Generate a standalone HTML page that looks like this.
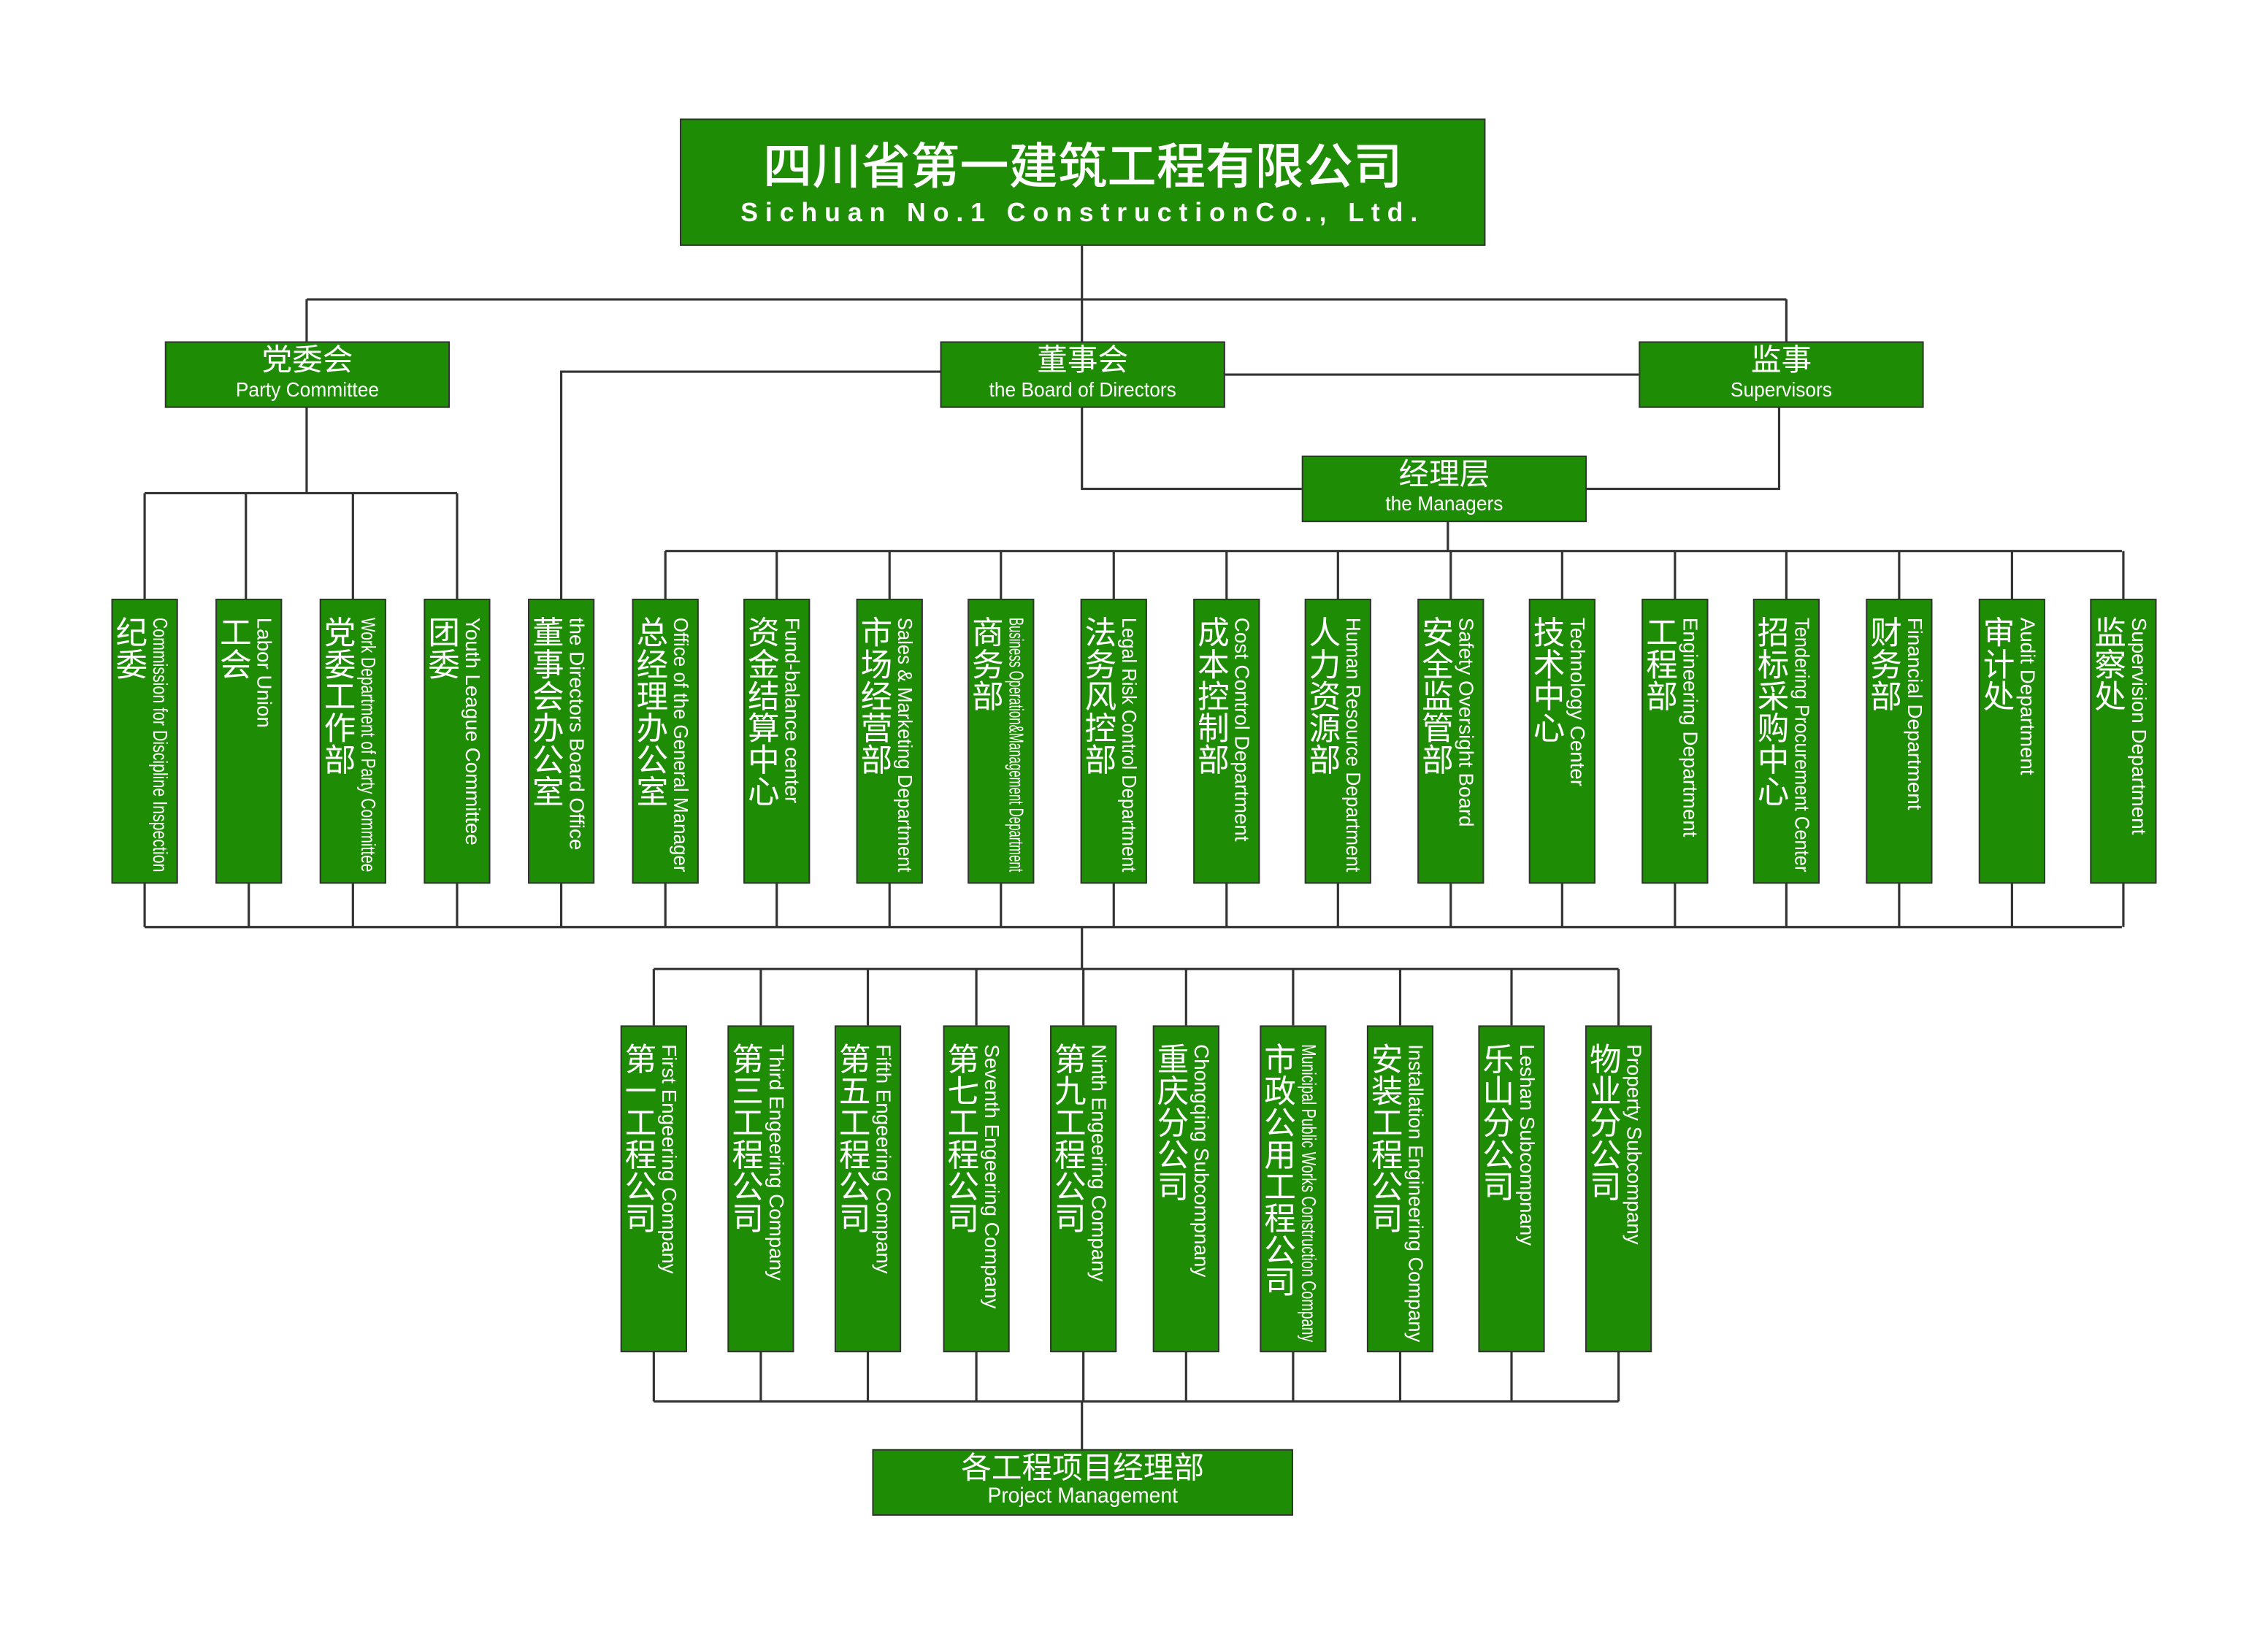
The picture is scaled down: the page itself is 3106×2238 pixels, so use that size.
<!DOCTYPE html>
<html><head><meta charset="utf-8">
<style>
html,body{margin:0;padding:0;background:#fff;}
body{width:3106px;height:2238px;overflow:hidden;}
#w{position:absolute;left:0;top:0;width:1568px;height:1130px;transform:scale(1.98087);transform-origin:0 0;}
.b{position:absolute;background:#1f8c05;border:1.5px solid #333;box-sizing:border-box;color:#fff;font-family:"Liberation Sans","Noto Sans CJK SC",sans-serif;}
.h{text-align:center;}
.h .cn{font-size:21px;line-height:23px;margin-top:1px;}
.h .en{font-size:14px;line-height:16px;transform:scaleX(0.95);}
.col{width:46px;}
.col .cn{position:absolute;left:2px;top:11px;writing-mode:vertical-rl;font-size:22px;line-height:22px;font-family:"Noto Sans CJK SC",sans-serif;}
.col .en{position:absolute;left:25px;top:12px;writing-mode:vertical-rl;font-size:14px;line-height:16px;white-space:nowrap;transform-origin:0 0;}
svg{position:absolute;left:0;top:0;}
</style></head><body>
<div id="w">
<svg width="1568" height="1130" viewBox="0 0 1568 1130" fill="none" stroke="#333" stroke-width="1.6">
<path d="M748 170V236M212 207H1235M212 207V236M1235 207V236"/>
<path d="M650 257H388V414M847 259H1133M748 281V338H900M1230 281V338H1097"/>
<path d="M212 281V341M100 341H316M100 341V414M170 341V414M244 341V414M316 341V414"/>
<path d="M1001 360V381M460 381H1467"/>
<path id="mv"/>
<path id="bv"/>
<path d="M100 641H1467M748 641V670M452 670H1119"/>
<path id="sv"/>
<path d="M452 969H1119M748 969V1003"/>
</svg>

<div class="b" style="left:470px;top:82px;width:557px;height:88px;text-align:center;">
<div style="font-size:34px;line-height:40px;margin-top:10px;font-family:'Noto Sans CJK SC',sans-serif;font-weight:500;">四川省第一建筑工程有限公司</div>
<div style="font-size:18px;font-weight:bold;letter-spacing:5px;line-height:22px;margin-top:3px;">Sichuan No.1 ConstructionCo., Ltd.</div>
</div>
<div class="b h" style="left:114px;top:236px;width:197px;height:46px;"><div class="cn">党委会</div><div class="en">Party Committee</div></div>
<div class="b h" style="left:650px;top:236px;width:197px;height:46px;"><div class="cn">董事会</div><div class="en">the Board of Directors</div></div>
<div class="b h" style="left:1133px;top:236px;width:197px;height:46px;"><div class="cn">监事</div><div class="en">Supervisors</div></div>
<div class="b h" style="left:900px;top:315px;width:197px;height:46px;"><div class="cn">经理层</div><div class="en">the Managers</div></div>
<div class="b h" style="left:603px;top:1002px;width:291px;height:46px;"><div class="cn">各工程项目经理部</div><div class="en" style="font-size:15px;">Project Management</div></div>
<div id="cols"></div>
</div>
<script>
var cols=[[77,"纪委","Commission for Discipline Inspection"],[149,"工会","Labor Union"],[221,"党委工作部","Work Department of Party Committee"],[293,"团委","Youth League Committee"],[365,"董事会办公室","the Directors Board Office"],[437,"总经理办公室","Office of the General Manager"],[514,"资金结算中心","Fund-balance center"],[592,"市场经营部","Sales & Marketing Department"],[669,"商务部","Business Operation&Management Department"],[747,"法务风控部","Legal Risk Control Department"],[825,"成本控制部","Cost Control Department"],[902,"人力资源部","Human Resource Department"],[980,"安全监管部","Safety Oversight Board"],[1057,"技术中心","Technology Center"],[1135,"工程部","Engineering Department"],[1212,"招标采购中心","Tendering Procurement Center"],[1290,"财务部","Financial Department"],[1368,"审计处","Audit Department"],[1445,"监察处","Supervision Department"]];
var subs=[[429,"第一工程公司","First Engeering Company"],[503,"第三工程公司","Third Engeering Company"],[577,"第五工程公司","Fifth Engeering Company"],[652,"第七工程公司","Seventh Engeering Company"],[726,"第九工程公司","Ninth Engeering Company"],[797,"重庆分公司","Chongqing Subcompnany"],[871,"市政公用工程公司","Municipal Public Works Construction Company"],[945,"安装工程公司","Installation Engineering Company"],[1022,"乐山分公司","Leshan Subcompnany"],[1096,"物业分公司","Property Subcompany"]];
var c=document.getElementById('cols'),mv="",bv="",sv="";
function add(x,y,h,cn,en,max){var d=document.createElement('div');d.className='b col';d.style.left=x+'px';d.style.top=y+'px';d.style.height=h+'px';
d.innerHTML='<div class="cn">'+cn+'</div><div class="en">'+en.replace(/&/g,'&amp;')+'</div>';c.appendChild(d);
var e=d.querySelector('.en');var hh=e.getBoundingClientRect().height/1.98087;if(hh>max){e.style.transform='scaleY('+(max/hh)+')';}}
cols.forEach(function(a,i){add(a[0],414,197,a[1],a[2],176);var cx=a[0]+23;if(i>=5)mv+="M"+cx+" 381V414";bv+="M"+cx+" 610V641";});
subs.forEach(function(a){add(a[0],709,226,a[1],a[2],206);var cx=a[0]+23;sv+="M"+cx+" 670V709M"+cx+" 934V969";});
document.getElementById('mv').setAttribute('d',mv);document.getElementById('bv').setAttribute('d',bv);document.getElementById('sv').setAttribute('d',sv);
</script>
</body></html>
